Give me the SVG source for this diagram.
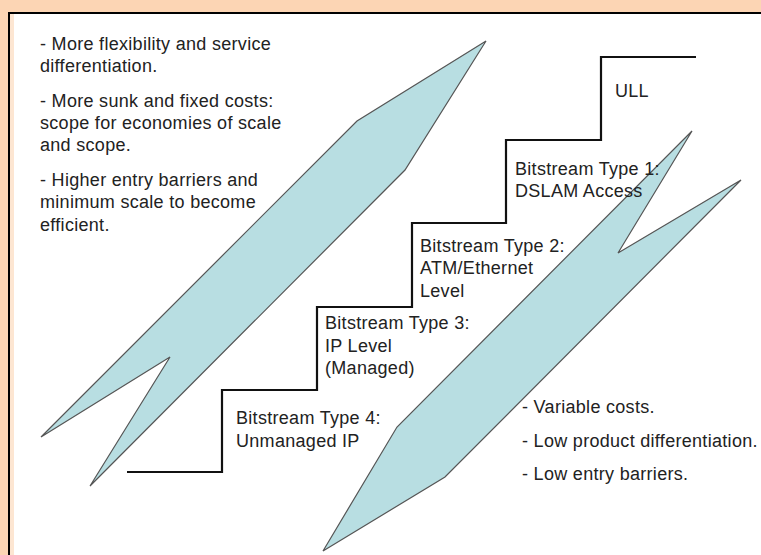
<svg xmlns="http://www.w3.org/2000/svg" width="761" height="555" viewBox="0 0 761 555">
  <style>
    .txt { font-family: "Liberation Sans", Arial, sans-serif; font-size: 18px; fill: #222; letter-spacing: 0.3px; }
    .arrow { fill: #b8dee2; stroke: #555; stroke-width: 1.2; stroke-linejoin: miter; }
    .step { fill: none; stroke: #111; stroke-width: 2.2; }
  </style>

  <!-- page frame -->
  <g id="frame">
    <rect x="0" y="0" width="761" height="555" fill="#fcd5b4"/>
    <rect x="10" y="13" width="751" height="542" fill="#fde6d2"/>
    <rect x="14" y="14" width="747" height="541" fill="#ffffff"/>
    <line x1="9" y1="13" x2="761" y2="13" stroke="#000" stroke-width="2"/>
    <line x1="9" y1="12" x2="9" y2="555" stroke="#000" stroke-width="2"/>
  </g>

  <!-- upward arrow: high-investment end -->
  <g id="arrow-upper">
    <polygon class="arrow" points="486,41 357,121 41,437 170,357 90,486 405,170"/>
  </g>

  <!-- downward arrow: low-investment end -->
  <g id="arrow-lower">
    <polygon class="arrow" points="692,131 618,253 741,180 445,477 323,551 397,427"/>
  </g>

  <!-- ladder of access steps -->
  <g id="staircase">
    <polyline class="step" points="127,472 222,472 222,390 317,390 317,307 412,307 412,223 506,223 506,140 601,140 601,57 696,57"/>
  </g>

  <g id="notes-upper">
    <text class="txt" x="40" y="50">- More flexibility and service</text>
    <text class="txt" x="40" y="72">differentiation.</text>
    <text class="txt" x="40" y="107">- More sunk and fixed costs:</text>
    <text class="txt" x="40" y="129">scope for economies of scale</text>
    <text class="txt" x="40" y="151">and scope.</text>
    <text class="txt" x="40" y="186">- Higher entry barriers and</text>
    <text class="txt" x="40" y="208">minimum scale to become</text>
    <text class="txt" x="40" y="231">efficient.</text>
  </g>

  <g id="step-ull">
    <text class="txt" x="615" y="97">ULL</text>
  </g>

  <g id="step-type1">
    <text class="txt" x="515" y="175">Bitstream Type 1:</text>
    <text class="txt" x="515" y="197">DSLAM Access</text>
  </g>

  <g id="step-type2">
    <text class="txt" x="420" y="252">Bitstream Type 2:</text>
    <text class="txt" x="420" y="274">ATM/Ethernet</text>
    <text class="txt" x="420" y="297">Level</text>
  </g>

  <g id="step-type3">
    <text class="txt" x="325" y="329">Bitstream Type 3:</text>
    <text class="txt" x="325" y="352">IP Level</text>
    <text class="txt" x="325" y="374">(Managed)</text>
  </g>

  <g id="step-type4">
    <text class="txt" x="236" y="424">Bitstream Type 4:</text>
    <text class="txt" x="236" y="447">Unmanaged IP</text>
  </g>

  <g id="notes-lower">
    <text class="txt" x="522" y="413">- Variable costs.</text>
    <text class="txt" x="522" y="447">- Low product differentiation.</text>
    <text class="txt" x="522" y="480">- Low entry barriers.</text>
  </g>
</svg>
